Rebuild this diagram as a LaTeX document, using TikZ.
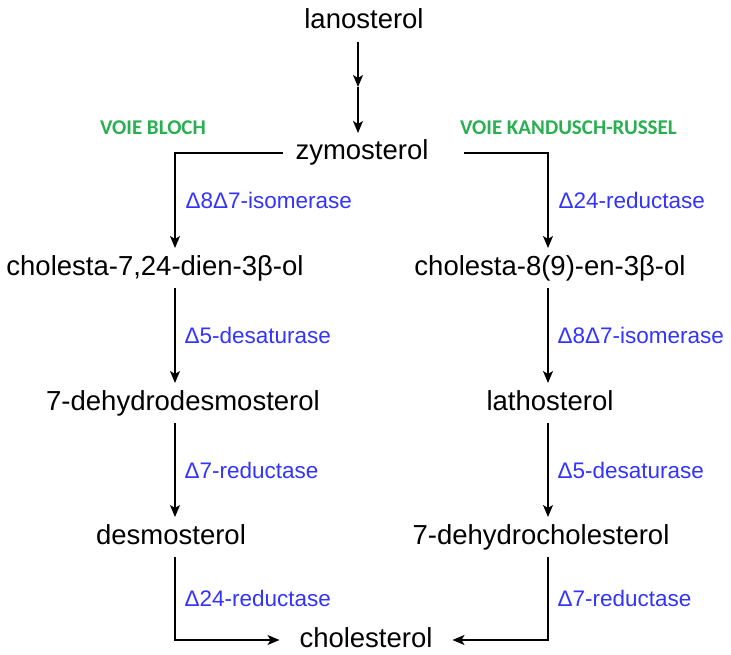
\documentclass[tikz,border=0pt]{standalone}
\usepackage{fontspec}
\setmainfont{Liberation Sans}
\newfontfamily\voiefont{Carlito}
\usetikzlibrary{arrows.meta,positioning,calc}
\definecolor{enzblue}{RGB}{51,51,255}
\definecolor{voiegreen}{RGB}{40,175,80}

\begin{document}
\begin{tikzpicture}[x=1pt,y=1pt]

\tikzstyle{sterol} = [inner sep=0pt, outer sep=7pt, text height=20pt, text depth=6pt,
    font=\fontsize{27.5}{32}\selectfont]
\tikzstyle{enzyme} = [right, inner sep=0pt, text=enzblue, font=\fontsize{22.5}{27}\selectfont]
\tikzstyle{voie} = [anchor=west, inner sep=0pt, text=voiegreen,
    font=\voiefont\bfseries\fontsize{21}{25}\selectfont]
\tikzstyle{line} = [draw, line width=1.3pt, -{Stealth[length=12pt,width=10pt,inset=3pt]}]

\useasboundingbox (0,0) rectangle (731,-655);

% columns
\coordinate (colM) at (358,0);
\coordinate (colL) at (175,0);
\coordinate (colR) at (548,0);

\node [sterol] (lanosterol) at (364,-22) {lanosterol};
\node [sterol, below=91pt of lanosterol, xshift=-2pt] (zymosterol) {zymosterol};
\node [sterol, below=75pt of zymosterol, xshift=-207pt] (chol724) {cholesta-7,24-dien-3β-ol};
\node [sterol, below=75pt of zymosterol, xshift=188pt] (chol89) {cholesta-8(9)-en-3β-ol};
\node [sterol, below=95pt of chol724, xshift=28pt] (dhdesmo) {7-dehydrodesmosterol};
\node [sterol, below=95pt of chol89] (lathosterol) {lathosterol};
\node [sterol, below=94pt of dhdesmo, xshift=-12pt] (desmosterol) {desmosterol};
\node [sterol, below=94pt of lathosterol, xshift=-9pt] (dhchol) {7-dehydrocholesterol};
\node [sterol, outer xsep=20pt, below=63pt of desmosterol, xshift=195pt] (cholesterol) {cholesterol};

\node [voie] (bloch) at (100,-128) {VOIE BLOCH};
\node [voie] (kandusch) at (460,-128) {VOIE KANDUSCH-RUSSEL};

\coordinate (lanomid) at ($(colM |- lanosterol.south)+(0,-45)$);
\path [line] (lanosterol.south -| colM) -- (lanomid);
\path [line] (lanomid) -- (zymosterol.north -| colM);

\path [line] ([xshift=-6pt]zymosterol.west) -| 
node [enzyme, pos=0.75, xshift=10pt] {Δ8Δ7-isomerase}
(chol724.north -| colL);
\path [line] ([xshift=29pt]zymosterol.east) -| 
node [enzyme, pos=0.75, xshift=10pt] {Δ24-reductase}
(chol89.north -| colR);

\path [line] (chol724.south -| colL) -- 
node [enzyme, xshift=9pt] {Δ5-desaturase}
(dhdesmo.north -| colL);
\path [line] (dhdesmo.south -| colL) -- 
node [enzyme, xshift=9pt] {Δ7-reductase}
(desmosterol.north -| colL);
\path [line] (chol89.south -| colR) -- 
node [enzyme, xshift=9pt] {Δ8Δ7-isomerase}
(lathosterol.north -| colR);
\path [line] (lathosterol.south -| colR) -- 
node [enzyme, xshift=9pt] {Δ5-desaturase}
(dhchol.north -| colR);

\path [line] (desmosterol.south -| colL) |- 
node [enzyme, pos=0.25, xshift=9pt] {Δ24-reductase}
(cholesterol.west);
\path [line] (dhchol.south -| colR) |- 
node [enzyme, pos=0.25, xshift=9pt] {Δ7-reductase}
(cholesterol.east);
\end{tikzpicture}
\end{document}
